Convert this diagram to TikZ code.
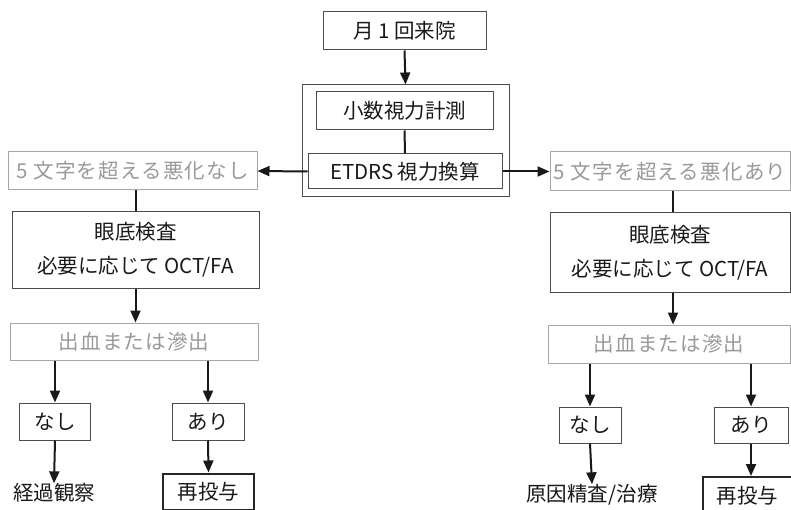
\documentclass[tikz,border=0pt]{standalone}
\usepackage{fontspec}
\setmainfont{Noto Sans CJK JP}
\newfontfamily\spacedfont[LetterSpace=6]{Noto Sans CJK JP}
\usetikzlibrary{arrows.meta}
\tikzset{
  fbox/.style={draw=black!70, line width=1pt, inner sep=0pt, align=center,
    font=\fontsize{20.5}{34}\selectfont, text=black!90},
  gbox/.style={fbox, draw=black!35, text=black!40, font=\spacedfont\fontsize{20.5}{34}\selectfont},
  tbox/.style={fbox, draw=black!85, line width=2pt},
  plain/.style={inner sep=0pt, font=\fontsize{20.5}{24}\selectfont, text=black!90},
  arr/.style={-{Triangle[length=12pt,width=10pt]}, line width=2pt, draw=black!90},
  conn/.style={line width=2pt, draw=black!90}
}
\begin{document}
\begin{tikzpicture}[x=1pt,y=-1pt]
\useasboundingbox (0,0) rectangle (791,510);
\clip (0,0) rectangle (791,510);
% top
\node[fbox, minimum width=163pt, minimum height=38pt] (top) at (404.5,31) {月 1 回来院};
\node[fbox, minimum width=207pt, minimum height=112pt] (outer) at (405.5,141) {};
\node[fbox, minimum width=177pt, minimum height=38pt] (shosu) at (404.5,111) {小数視力計測};
\node[fbox, minimum width=194pt, minimum height=35pt] (etdrs) at (405,171.5) {ETDRS 視力換算};
% level A
\node[gbox, minimum width=249pt, minimum height=38pt] (leftA) at (132.5,171) {5 文字を超える悪化なし};
\node[gbox, minimum width=240pt, minimum height=39pt] (rightA) at (670,171.5) {5 文字を超える悪化あり};
% level B
\node[fbox, minimum width=247pt, minimum height=76pt] (leftB) at (135.5,250) {眼底検査\\必要に応じて OCT/FA};
\node[fbox, minimum width=240pt, minimum height=79pt] (rightB) at (670,252.5) {眼底検査\\必要に応じて OCT/FA};
% level C
\node[gbox, minimum width=248pt, minimum height=37pt] (leftC) at (134,341.5) {出血または滲出};
\node[gbox, minimum width=242pt, minimum height=38pt] (rightC) at (669,344) {出血または滲出};
% level D
\node[fbox, minimum width=71pt, minimum height=37pt] (Lnashi) at (55,421.5) {なし};
\node[fbox, minimum width=72pt, minimum height=37pt] (Lari) at (208,421.5) {あり};
\node[fbox, minimum width=62pt, minimum height=36pt] (Rnashi) at (590,425) {なし};
\node[fbox, minimum width=74pt, minimum height=36pt] (Rari) at (751,425) {あり};
% level E
\node[plain] (Lkeika) at (54,493) {経過観察};
\node[tbox, minimum width=91pt, minimum height=36pt] (Lsai) at (208.5,491.5) {再投与};
\node[plain] (Rgenin) at (592,495) {原因精査/治療};
\node[tbox, minimum width=89pt, minimum height=38pt] (Rsai) at (747.5,496) {再投与};
% connectors
\draw[arr] (top.south) -- (outer.north);
\draw[conn] (shosu.south) -- (etdrs.north);
\draw[arr] (etdrs.west) -- (leftA.east);
\draw[arr] (etdrs.east) -- (rightA.west);
\draw[conn] (leftA.south -| leftB.north) -- (leftB.north);
\draw[arr] (leftB.south) -- (leftC.north -| leftB.south);
\draw[conn] (rightA.south -| 673,0) -- (rightB.north -| 673,0);
\draw[arr] (rightB.south -| 673,0) -- (rightC.north -| 673,0);
\draw[arr] (leftC.south -| Lnashi.north) -- (Lnashi.north);
\draw[arr] (leftC.south -| Lari.north) -- (Lari.north);
\draw[arr] (Lnashi.south) -- (Lkeika.north);
\draw[arr] (Lari.south) -- (Lsai.north);
\draw[arr] (rightC.south -| Rnashi.north) -- (Rnashi.north);
\draw[arr] (rightC.south -| Rari.north) -- (Rari.north);
\draw[arr] (Rnashi.south) -- (Rgenin.north);
\draw[arr] (Rari.south) -- (Rari.south |- Rsai.north);
\end{tikzpicture}
\end{document}
